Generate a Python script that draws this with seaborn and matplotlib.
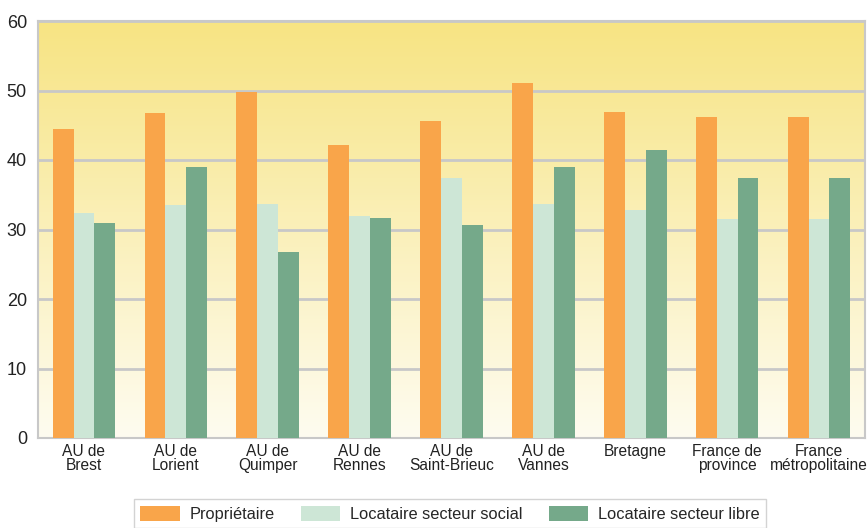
import numpy as np
import pandas as pd
import matplotlib.pyplot as plt
import seaborn as sns
from matplotlib.colors import LinearSegmentedColormap

# donnees
zones = ["AU de\nBrest", "AU de\nLorient", "AU de\nQuimper", "AU de\nRennes",
         "AU de\nSaint-Brieuc", "AU de\nVannes", "Bretagne",
         "France de\nprovince", "France\nmétropolitaine"]
proprietaire = [44.5, 46.8, 49.8, 42.2, 45.6, 51.1, 46.9, 46.2, 46.2]
loc_social = [32.4, 33.5, 33.7, 31.9, 37.4, 33.7, 32.8, 31.5, 31.5]
loc_libre = [30.9, 39.0, 26.8, 31.7, 30.6, 39.0, 41.4, 37.4, 37.4]
series = ["Propriétaire", "Locataire secteur social", "Locataire secteur libre"]
couleurs = ["#F9A54A", "#CDE6D6", "#75A98A"]

df = pd.DataFrame({"zone": zones * 3,
                   "statut": np.repeat(series, len(zones)),
                   "val": proprietaire + loc_social + loc_libre})

sns.set_style("white")
plt.rcParams['font.family'] = ['Liberation Sans Narrow', 'Liberation Sans', 'DejaVu Sans']

fig = plt.figure(figsize=(8.67, 5.28), dpi=100)
ax = fig.add_axes([38/867, 90/528, 827/867, 417/528])

# fond en degrade
grad = LinearSegmentedColormap.from_list("fond", ["#FEFCF0", "#F7E483"])
ax.imshow(np.linspace(0, 1, 256).reshape(-1, 1), cmap=grad, aspect="auto",
          extent=[-0.5, len(zones) - 0.5, 0, 60], origin="lower", zorder=0)

sns.barplot(data=df, x="zone", y="val", hue="statut", palette=couleurs,
            width=0.68, gap=0, saturation=1, linewidth=0, ax=ax, zorder=3,
            legend=True)

ax.set_xlim(-0.5, len(zones) - 0.5)
ax.set_ylim(0, 60)
ax.set_yticks(range(0, 61, 10))
ax.yaxis.grid(True, color="#C8C8C8", lw=2)
ax.set_axisbelow(False)
for l in ax.get_ygridlines():
    l.set_zorder(1)
ax.set_xlabel("")
ax.set_ylabel("")
for s in ax.spines.values():
    s.set_color("#C8C8C8")
    s.set_linewidth(1.5)
ax.tick_params(axis="y", length=0, labelsize=13, colors="#222222", pad=8)
ax.tick_params(axis="x", length=0, labelsize=11.2, colors="#222222", pad=4)
for t in ax.get_xticklabels():
    t.set_linespacing(0.95)

leg = ax.legend(loc="upper center", bbox_to_anchor=(0.498, -0.147), ncol=3,
                frameon=True, fancybox=False, edgecolor="#C8C8C8", fontsize=11.8,
                handlelength=2.4, handleheight=1.0, handletextpad=0.6,
                columnspacing=1.6, borderpad=0.4, borderaxespad=0)

fig.savefig("out.png", dpi=100)
